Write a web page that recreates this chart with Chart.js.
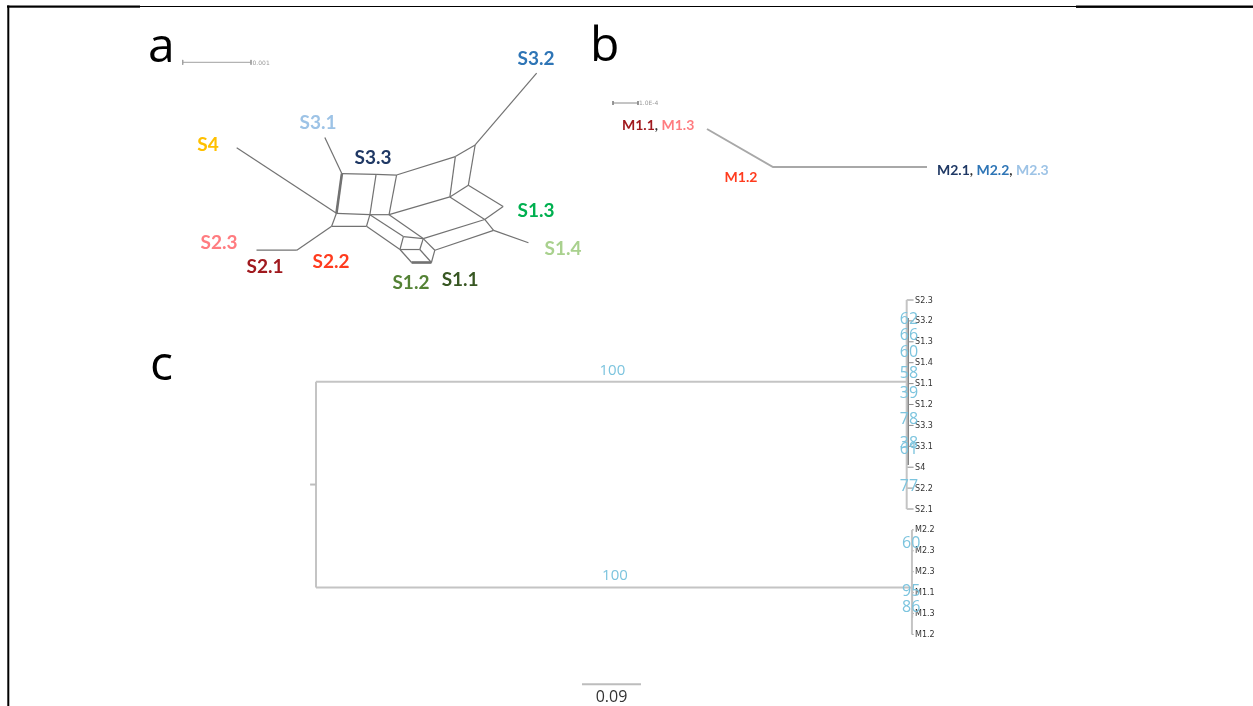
<!DOCTYPE html>
<html><head><meta charset="utf-8">
<script src="https://cdn.jsdelivr.net/npm/chart.js@4/dist/chart.umd.min.js"></script>
<style>html,body{margin:0;padding:0;background:#fff;overflow:hidden}</style>
</head><body>
<canvas id="c" width="1253" height="706"></canvas>
<script>
// ===== Panel a: split network (units of 1e-4 substitutions/site) =====
const netNodeNames = ['S32tip','A','B','C','D','E','S31tip','F','S4tip','G','H','I','J','K','L','M','S14tip','N','O','P','S2tip','Q','R','S','T','U','V','W'];
const netNodeX = [51.8,42.8,39.9,31.3,28.3,23.3,20.8,22.5,7.9,27.4,30.2,39.1,41.8,46.9,44.2,45.5,50.6,21.8,26.9,16.7,10.8,32.3,35.2,31.8,34.7,36.9,33.5,36.4];
const netNodeY = [1.6,12.1,13.8,16.5,16.4,16.3,11.0,22.1,12.5,22.3,22.3,19.7,18.0,21.1,23.0,24.6,26.4,24.0,24.0,27.5,27.5,25.5,25.8,27.4,27.4,27.5,29.3,29.3];
const netEdges = [['S32tip','A'],['A','B'],['B','C'],['C','D'],['D','E'],['E','S31tip'],['E','F'],['S4tip','F'],
  ['F','G'],['G','H'],['D','G'],['C','H'],['H','I'],['B','I'],['I','J'],['A','J'],['J','K'],['I','L'],['K','L'],
  ['L','M'],['M','S14tip'],['F','N'],['G','O'],['N','O'],['N','P'],['P','S2tip'],['G','Q'],['O','S'],['H','R'],
  ['Q','R'],['S','T'],['Q','S'],['R','T'],['R','U'],['T','W'],['U','W'],['S','V'],['V','W'],['R','L'],['U','M']];
const netDoubleEdges = [['E','F'],['V','W']];
const aTaxa = ['S3.2','S3.1','S4','S3.3','S1.3','S1.4','S2.3','S2.1','S2.2','S1.2','S1.1'];
const aColors = ['#2e75b6','#9dc3e6','#ffc000','#1f3864','#00b050','#a9d18e','#ff7c80','#a0191e','#ff3b1e','#548235','#385723'];
const aScaleBar = [0, 10]; // 10 units = 0.001
const aScaleLabel = '0.001';

// ===== Panel b: tree (1 unit = 1e-4) =====
const bNodeX = [3.76, 6.4, 12.56];   // M1 tips, internal node, M2 tips
const bNodeY = [1.04, 2.56, 2.56];
const bScaleBar = [0, 1];
const bScaleLabel = '1.0E-4';
const bGroups = [
  [['M1.1','#a0191e'],[', ','#333333'],['M1.3','#ff7c80']],
  [['M1.2','#ff3b1e']],
  [['M2.1','#1f3864'],[', ','#333333'],['M2.2','#2e75b6'],[', ','#333333'],['M2.3','#9dc3e6']]
];

// ===== Panel c: ML tree =====
const cTips = ['S2.3','S3.2','S1.3','S1.4','S1.1','S1.2','S3.3','S3.1','S4','S2.2','S2.1','M2.2','M2.3','M2.3','M1.1','M1.3','M1.2'];
const cClades = [[0,10],[11,16]];          // tip row ranges
const cStemLen = [0.901, 0.909];           // root -> clade node
const cCladeRow = [3.91, 13.75];
const cStemSupport = [100, 100];
const cTipDepth = 0.9115;
const cInnerS = [0.9030, 0.86, 7.9];       // depth, row from, row to
const cInnerM = [0.9095, 13.9, 15.2];
const cBoot = [62,66,60,58,39,78,38,61,77,60,95,86];
const cBootRow = [0.86,1.63,2.44,3.44,4.4,5.65,6.8,7.08,8.85,11.58,13.88,14.64];
const cBootDepth = [0.9045,0.9045,0.9045,0.9045,0.9045,0.9045,0.9045,0.9045,0.9045,0.9078,0.9078,0.9078];
const cScaleLen = 0.09;
const cScaleLabel = '0.09';

// ===== layout (pixel calibration per panel) =====
const W = 1253, H = 706;
const calA = {ox:182.7, oy:62.3, kx:6.833, ky:6.833};
const calB = {ox:613, oy:103, kx:25, ky:25};
const calC = {ox:316, oy:300, kx:655.6, ky:20.9};
function ax(cal, which, rev){
  const o = which==='x'?cal.ox:cal.oy, k = which==='x'?cal.kx:cal.ky, L = which==='x'?W:H;
  return {type:'linear', display:false, min:-o/k, max:(L-o)/k, reverse:!!rev, bounds:'data', grid:{display:false}, ticks:{display:false}};
}

const datasets = [];
function line(pts, xs, ys, color, width){
  datasets.push({data:pts, xAxisID:xs, yAxisID:ys, showLine:true, borderColor:color, borderWidth:width,
    pointRadius:0, pointHoverRadius:0, fill:false, tension:0, borderCapStyle:'butt', spanGaps:false});
}
const idx = n => netNodeNames.indexOf(n);
const np = n => ({x:netNodeX[idx(n)], y:netNodeY[idx(n)]});
netEdges.forEach(e => line([np(e[0]), np(e[1])], 'xA','yA','#727272',1.2));
netDoubleEdges.forEach(e => line([np(e[0]), np(e[1])], 'xA','yA','#727272',2.6));
// a scale bar
line([{x:aScaleBar[0],y:0},{x:aScaleBar[1],y:0}],'xA','yA','#a0a0a0',1);
[aScaleBar[0],aScaleBar[1]].forEach(v=>line([{x:v,y:-0.35},{x:v,y:0.35}],'xA','yA','#a0a0a0',1));
// b tree
line(bNodeX.map((x,i)=>({x, y:bNodeY[i]})),'xB','yB','#a8a8a8',2);
line([{x:bScaleBar[0],y:0},{x:bScaleBar[1],y:0}],'xB','yB','#8a8a8a',1);
[bScaleBar[0],bScaleBar[1]].forEach(v=>line([{x:v,y:-0.08},{x:v,y:0.08}],'xB','yB','#8a8a8a',1));
// c tree
const rootRow = (cCladeRow[0]+cCladeRow[1])/2;
line([{x:-0.009,y:rootRow},{x:0,y:rootRow}],'xC','yC','#bdbdbd',2);
line([{x:0,y:cCladeRow[0]},{x:0,y:cCladeRow[1]}],'xC','yC','#c4c4c4',2);
cClades.forEach((cl,i)=>{
  line([{x:0,y:cCladeRow[i]},{x:cStemLen[i],y:cCladeRow[i]}],'xC','yC','#c4c4c4',2);
  line([{x:cStemLen[i],y:cl[0]},{x:cStemLen[i],y:cl[1]}],'xC','yC','#c4c4c4',2);
  for(let r=cl[0]; r<=cl[1]; r++) line([{x:cStemLen[i],y:r},{x:cTipDepth,y:r}],'xC','yC','#8c8c8c',1);
});
line([{x:cInnerS[0],y:cInnerS[1]},{x:cInnerS[0],y:cInnerS[2]}],'xC','yC','#6a6a6a',1.6);
line([{x:cInnerM[0],y:cInnerM[1]},{x:cInnerM[0],y:cInnerM[2]}],'xC','yC','#6a6a6a',1.6);
const cScaleStart = 0.4057, cScaleRow = 18.39;
line([{x:cScaleStart,y:cScaleRow},{x:cScaleStart+cScaleLen,y:cScaleRow}],'xC','yC','#bdbdbd',2);

// label anchors for panel a (layout, in panel-a units)
const aLabelPos = [[51.7,-0.63],[19.8,8.74],[3.7,11.96],[27.85,13.86],[51.7,21.6],[55.65,27.18],[5.31,26.3],[12.04,29.8],[21.7,29.08],[33.4,32.15],[40.6,31.7]];
const bLabelPos = [[0.36,0.88,'left'],[5.12,2.96,'center'],[12.96,2.68,'left']];

const textPlugin = {
  id:'texts',
  beforeDraw(chart){
    const ctx = chart.ctx; ctx.save(); ctx.fillStyle='#fff'; ctx.fillRect(0,0,W,H);
    ctx.fillStyle='#000';
    ctx.fillRect(7,5.5,133,2.2); ctx.fillRect(140,6,936,1); ctx.fillRect(1076,5.5,177,2.4);
    ctx.fillRect(7.3,5.5,2,H-5.5);
    ctx.restore();
  },
  afterDatasetsDraw(chart){
    const ctx = chart.ctx, s = chart.scales;
    const P = (xs,ys,x,y)=>[s[xs].getPixelForValue(x), s[ys].getPixelForValue(y)];
    ctx.save();
    // panel letters
    ctx.fillStyle='#000'; ctx.font="48px 'Open Sans', sans-serif"; ctx.textAlign='left'; ctx.textBaseline='alphabetic';
    ctx.fillText('a',148,62); ctx.fillText('b',590,61); ctx.fillText('c',150,380);
    // panel a taxa
    ctx.font="bold 19px Lato, 'Open Sans', sans-serif"; ctx.textAlign='center';
    aTaxa.forEach((t,i)=>{ const p=P('xA','yA',aLabelPos[i][0],aLabelPos[i][1]); ctx.fillStyle=aColors[i]; ctx.fillText(t,p[0],p[1]+6.8); });
    // scale labels
    ctx.font="6px 'DejaVu Sans', sans-serif"; ctx.fillStyle='#9a9a9a'; ctx.textAlign='left';
    let p=P('xA','yA',aScaleBar[1],0); ctx.fillText(aScaleLabel,p[0]+1.5,p[1]+2.2);
    p=P('xB','yB',bScaleBar[1],0); ctx.fillText(bScaleLabel,p[0]+1,p[1]+2.2);
    // panel b labels
    ctx.font="bold 14px Lato, 'Open Sans', sans-serif";
    bGroups.forEach((g,i)=>{
      const q=P('xB','yB',bLabelPos[i][0],bLabelPos[i][1]);
      let total=0; g.forEach(seg=>total+=ctx.measureText(seg[0]).width);
      let x = bLabelPos[i][2]==='center'? q[0]-total/2 : q[0];
      ctx.textAlign='left';
      g.forEach(seg=>{ ctx.fillStyle=seg[1]; ctx.fillText(seg[0],x,q[1]+5); x+=ctx.measureText(seg[0]).width; });
    });
    // panel c tip labels
    ctx.font="8px 'DejaVu Sans', sans-serif"; ctx.fillStyle='#333'; ctx.textAlign='left'; ctx.textBaseline='middle';
    cTips.forEach((t,r)=>{ const q=P('xC','yC',cTipDepth,r); ctx.fillText(t,q[0]+1.5,q[1]+0.5); });
    // supports
    ctx.fillStyle='#7cc4de'; ctx.textAlign='center'; ctx.textBaseline='alphabetic';
    ctx.font="15px 'Open Sans', sans-serif";
    cStemSupport.forEach((v,i)=>{ const q=P('xC','yC',cStemLen[i]/2,cCladeRow[i]); ctx.fillText(String(v),q[0]+1,q[1]-7); });
    ctx.font="16px 'Open Sans', sans-serif";
    cBoot.forEach((v,i)=>{ const q=P('xC','yC',cBootDepth[i],cBootRow[i]); ctx.fillText(String(v),q[0],q[1]+6); });
    // c scale label
    ctx.font="16px 'Open Sans', sans-serif"; ctx.fillStyle='#333';
    const q=P('xC','yC',cScaleStart+cScaleLen/2,cScaleRow); ctx.fillText(cScaleLabel,q[0],q[1]+17.5);
    ctx.restore();
  }
};

new Chart(document.getElementById('c'), {
  type:'scatter',
  data:{datasets},
  options:{
    responsive:false, animation:false, devicePixelRatio:1,
    layout:{padding:0},
    plugins:{legend:{display:false}, tooltip:{enabled:false}, title:{display:false}},
    events:[],
    scales:{
      xA:ax(calA,'x'), yA:ax(calA,'y',true),
      xB:ax(calB,'x'), yB:ax(calB,'y',true),
      xC:ax(calC,'x'), yC:ax(calC,'y',true)
    }
  },
  plugins:[textPlugin]
});
</script>
</body></html>
